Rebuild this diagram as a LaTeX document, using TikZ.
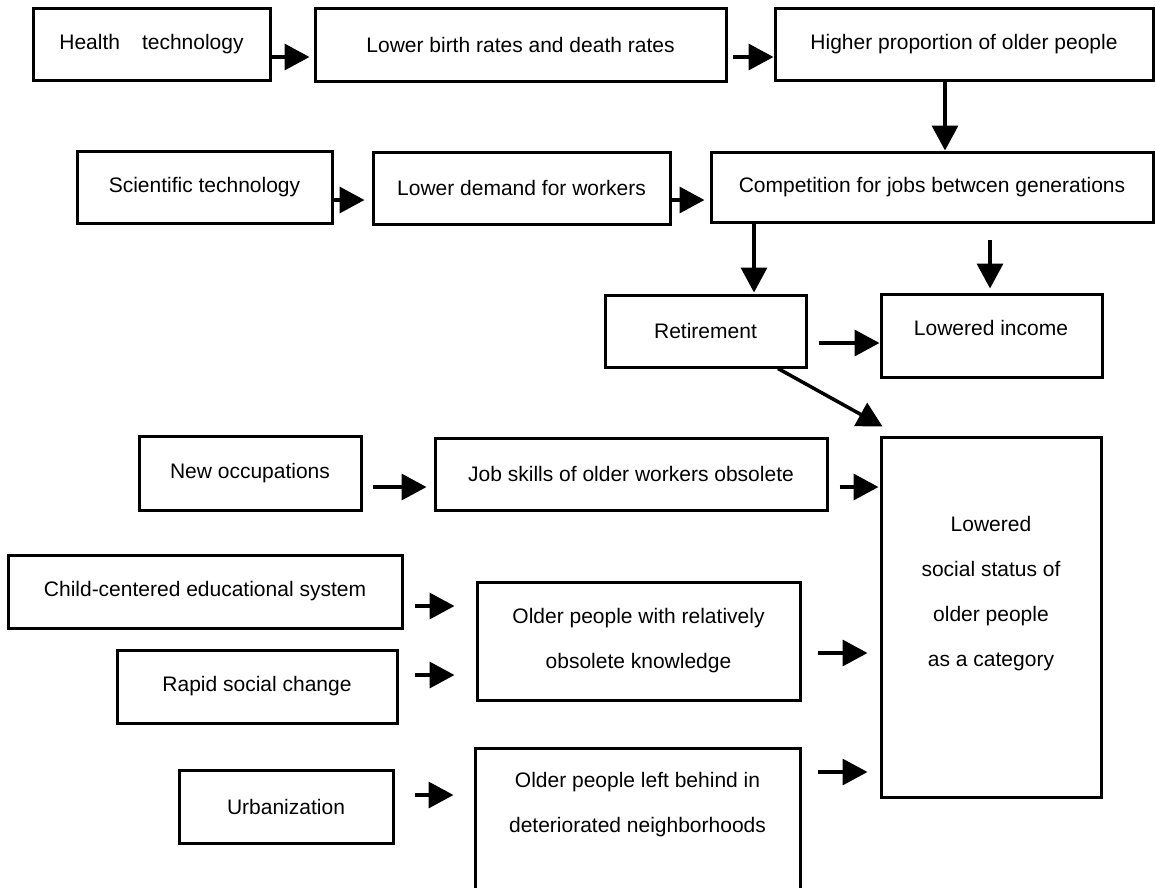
\documentclass[tikz,border=0pt]{standalone}
\usepackage{fontspec}
\setmainfont{Liberation Sans}
\usetikzlibrary{arrows.meta,calc}
\begin{document}
\begin{tikzpicture}[x={(1pt,0pt)}, y={(0pt,-1pt)},
  box/.style={draw, line width=3pt, inner sep=0pt, align=center, font=\fontsize{21}{45}\selectfont},
  txt/.style={inner sep=0pt, align=center, font=\fontsize{21}{45}\selectfont},
  arr/.style={line width=3.5pt, -{Triangle[length=25pt,width=26pt]}}]
\fill[white] (0,0) rectangle (1156,887);
\useasboundingbox (0,0) rectangle (1156,887);
\clip (0,0) rectangle (1156,887);

% boxes
\node[box, minimum width=237pt, minimum height=72pt] (health) at (151.5,44) {Health\hspace{22pt}technology};
\node[box, minimum width=411pt, minimum height=73pt] (births) at (520.5,44.5) {Lower birth rates and death rates};
\node[box, minimum width=378pt, minimum height=72pt] (higher) at (964,44) {Higher proportion of older people};
\node[box, minimum width=255pt, minimum height=72pt] (sci) at (204.5,187) {Scientific technology};
\node[box, minimum width=297pt, minimum height=72pt] (demand) at (521.5,188) {Lower demand for workers};
\node[box, minimum width=442pt, minimum height=70pt] (comp) at (932,187) {Competition for jobs betwcen generations};
\node[box, minimum width=201pt, minimum height=72pt] (retire) at (705.5,331) {Retirement};
\node[box, minimum width=221pt, minimum height=83pt] (income) at (991.5,335.5) {};
\node[txt] (incometext) at (991,328) {Lowered income};
\node[box, minimum width=222pt, minimum height=74pt] (newocc) at (250,473) {New occupations};
\node[box, minimum width=392pt, minimum height=72pt] (skills) at (631,474) {Job skills of older workers obsolete};
\node[box, minimum width=220pt, minimum height=360pt] (big) at (991,617) {};
\node[txt] (bigtext) at (991,593.5) {Lowered\\social status of\\older people\\as a category};
\node[box, minimum width=394pt, minimum height=73pt] (child) at (205,591.5) {Child-centered educational system};
\node[box, minimum width=323pt, minimum height=118pt] (oldrel) at (638.5,641) {Older people with relatively\\obsolete knowledge};
\node[box, minimum width=280pt, minimum height=73pt] (rapid) at (257,686.5) {Rapid social change};
\node[box, minimum width=214pt, minimum height=73pt] (urban) at (286,806.5) {Urbanization};
\node[box, minimum width=325pt, minimum height=152pt] (behind) at (637.5,824) {};
\node[txt] (behindtext) at (637.5,804.5) {Older people left behind in\\deteriorated neighborhoods};

\coordinate (incomein) at (990,240);

% connectors
\draw[arr, shorten >=4pt] ($(health.east)+(0,13)$) -- ($(births.west)+(0,12.5)$);
\draw[arr, shorten <=5pt] ($(births.east)+(0,12.5)$) -- ($(higher.west)+(0,13)$);
\draw[arr] ($(higher.south)+(-19,0)$) -- ($(comp.north)+(13,0)$);
\draw[arr, shorten >=7pt] ($(sci.east)+(0,13)$) -- ($(demand.west)+(0,12)$);
\draw[arr, shorten >=5pt] ($(demand.east)+(0,12)$) -- ($(comp.west)+(0,13)$);
\draw[arr, shorten >=1pt] ($(comp.south)+(-178,0)$) -- ($(retire.north)+(48.5,0)$);
\draw[arr, shorten >=4pt] (incomein) -- ($(income.north)+(-1.5,0)$);
\draw[arr, shorten <=11pt] ($(retire.east)+(0,12)$) -- ($(income.west)+(0,7.5)$);
\draw[arr] ($(retire.south)+(72.5,0)$) -- ($(big.north west)+(3,-9)$);
\draw[arr, shorten <=10pt, shorten >=7pt] ($(newocc.east)+(0,14)$) -- ($(skills.west)+(0,13)$);
\draw[arr, shorten <=11pt, shorten >=1pt] ($(skills.east)+(0,13)$) -- ($(big.west)+(0,-130)$);
\draw[arr, shorten <=11pt, shorten >=21pt] ($(child.east)+(0,14.5)$) -- ($(oldrel.west)+(0,-35)$);
\draw[arr, shorten <=16pt, shorten >=21pt] ($(rapid.east)+(0,-11.5)$) -- ($(oldrel.west)+(0,34)$);
\draw[arr, shorten <=16pt, shorten >=12pt] ($(oldrel.east)+(0,12)$) -- ($(big.west)+(0,36)$);
\draw[arr, shorten <=16pt, shorten >=12pt] ($(behind.east)+(0,-52)$) -- ($(big.west)+(0,155)$);
\draw[arr, shorten <=20pt, shorten >=20pt] ($(urban.east)+(0,-11.5)$) -- ($(behind.west)+(0,-29)$);
\end{tikzpicture}
\end{document}
